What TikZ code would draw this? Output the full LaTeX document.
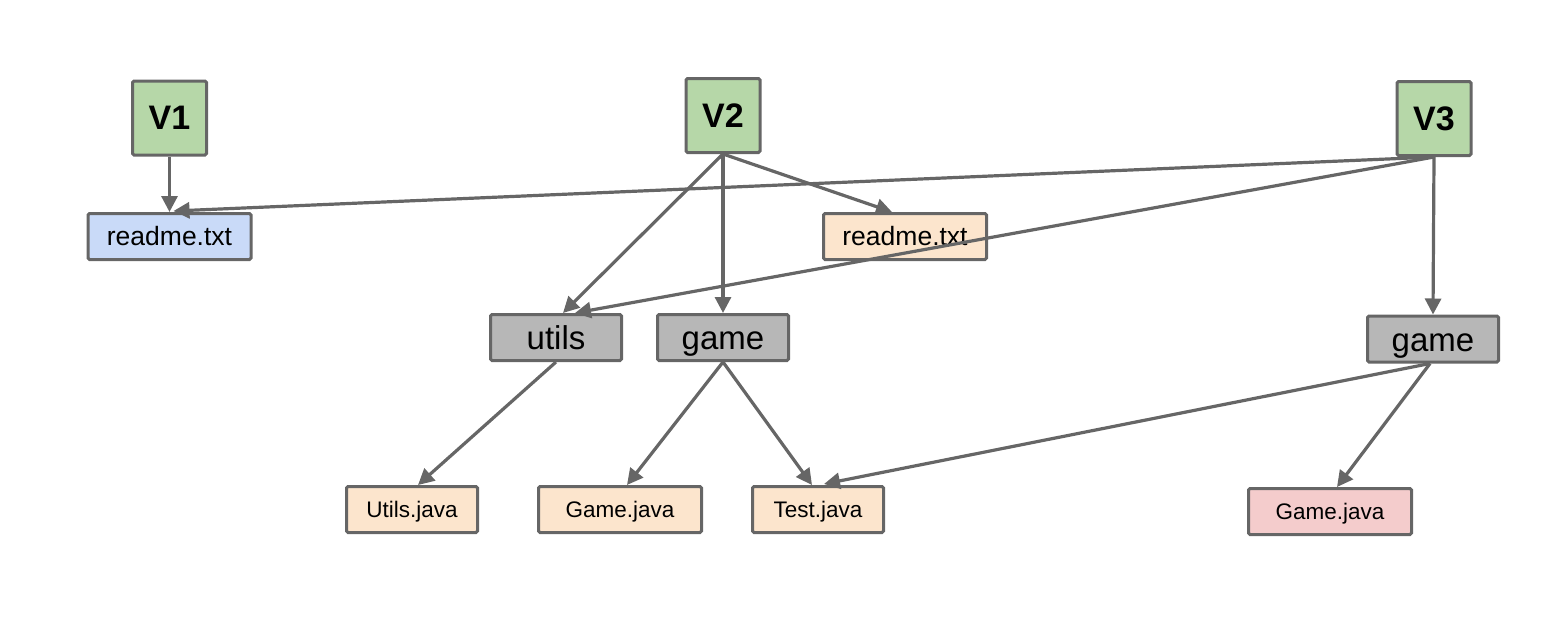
\documentclass[tikz,border=0pt]{standalone}
\usepackage{fontspec}
\setmainfont{Liberation Sans}
\usetikzlibrary{arrows.meta,calc}
\definecolor{linegray}{HTML}{666666}
\definecolor{vgreen}{HTML}{B6D7A8}
\definecolor{fblue}{HTML}{C9DAF8}
\definecolor{forange}{HTML}{FCE5CD}
\definecolor{fgray}{HTML}{B7B7B7}
\definecolor{fred}{HTML}{F4CCCC}
\tikzset{
  box/.style={draw=linegray, line width=3pt, rounded corners=1.5pt, inner sep=0pt, text=black},
  vbox/.style={box, fill=vgreen, minimum width=74pt, minimum height=74pt, font=\fontsize{34}{40}\selectfont\bfseries},
  filebox/.style={box, minimum height=46pt, font=\fontsize{22.5}{27}\selectfont, text height=20pt, text depth=4pt},
  readbox/.style={filebox, minimum width=163pt, font=\fontsize{26.5}{30}\selectfont, text height=22pt, text depth=4pt},
  dirbox/.style={box, fill=fgray, minimum width=131pt, minimum height=46pt, font=\fontsize{33}{38}\selectfont, text height=30pt, text depth=6pt},
  conn/.style={draw=linegray, line width=3.2pt, -{Triangle[length=16pt,width=16pt]}},
}
\begin{document}
\begin{tikzpicture}[x=1pt,y=-1pt]
\useasboundingbox (0,0) rectangle (1558,616);
\node[vbox] (V1) at (169.5,118) {V1};
\node[vbox] (V2) at (723,115.5) {V2};
\node[vbox] (V3) at (1434,118.5) {V3};
\node[readbox, fill=fblue] (r1) at (169.5,236.5) {readme.txt};
\node[readbox, fill=forange] (r2) at (905,236.5) {readme.txt};
\node[dirbox] (utils) at (556,337.5) {utils};
\node[dirbox] (g2) at (723,337.5) {game};
\node[dirbox] (g3) at (1433,339) {game};
\node[filebox, fill=forange, minimum width=131pt] (uj) at (412,509.5) {Utils.java};
\node[filebox, fill=forange, minimum width=163pt] (gj) at (620,509.5) {Game.java};
\node[filebox, fill=forange, minimum width=131pt] (tj) at (818,509.5) {Test.java};
\node[filebox, fill=fred, minimum width=163pt] (gj3) at (1330,511.5) {Game.java};

\coordinate (r1a) at ($(r1.north)+(4,-1)$);
\coordinate (r2a) at ($(r2.north)+(-13,0)$);
\coordinate (ua) at ($(utils.north)+(7,0)$);
\coordinate (ub) at ($(utils.north)+(19,0)$);
\coordinate (uja) at ($(uj.north)+(6,0)$);
\coordinate (gja) at ($(gj.north)+(7,0)$);
\coordinate (tja) at ($(tj.north)+(-6,0)$);
\coordinate (tjb) at ($(tj.north)+(6,-1)$);
\coordinate (gj3a) at ($(gj3.north)+(7,0)$);
\coordinate (g3b) at ($(g3.south)+(-3,0)$);

\draw[conn] (V1.south) -- (r1.north);
\draw[conn] (V3.south) -- (r1a);
\draw[conn] (V2.south) -- (ua);
\draw[conn] (V2.south) -- (g2.north);
\draw[conn] (V2.south) -- (r2a);
\draw[conn] (V3.south) -- (ub);
\draw[conn] (V3.south) -- (g3.north);
\draw[conn] (utils.south) -- (uja);
\draw[conn] (g2.south) -- (gja);
\draw[conn] (g2.south) -- (tja);
\draw[conn] (g3b) -- (tjb);
\draw[conn] (g3b) -- (gj3a);
\end{tikzpicture}
\end{document}
